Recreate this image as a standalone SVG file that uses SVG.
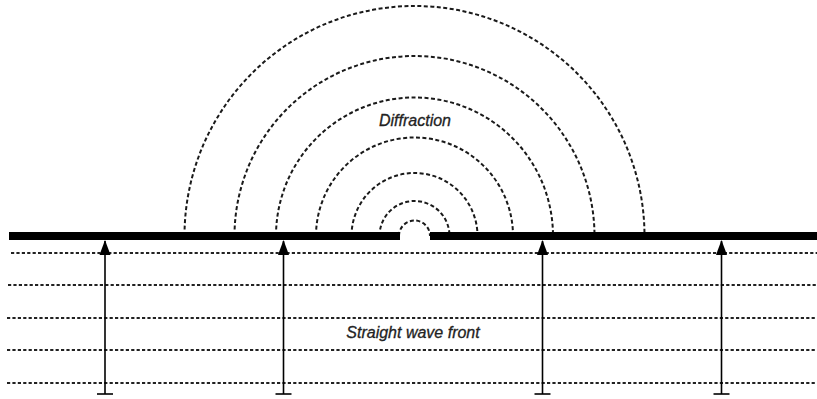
<svg xmlns="http://www.w3.org/2000/svg" width="817" height="399" viewBox="0 0 817 399">
<defs>
<style>
.arc{fill:none;stroke:#1a1a1a;stroke-width:2;stroke-dasharray:4 2.5}
.wave{fill:none;stroke:#222;stroke-width:2.2;stroke-dasharray:3.2 2.2}
.wall{fill:#000}
.shaft{stroke:#000;stroke-width:1.6;fill:none}
.lbl{font-family:"Liberation Sans",Arial,sans-serif;font-style:italic;font-size:16px;fill:#222;stroke:#222;stroke-width:0.3;text-anchor:middle}
</style>
<marker id="ah" viewBox="0 0 12 16" refX="6" refY="1" markerWidth="12" markerHeight="16" markerUnits="userSpaceOnUse" orient="0">
<path d="M6 0 L11.5 15 L0.5 15 Z" fill="#000"/>
</marker>
</defs>
<rect width="817" height="399" fill="#fff"/>
<g id="diffraction-arcs">
<path class="arc" d="M184.5 236 A230 230 0 0 1 644.5 236"/>
<path class="arc" d="M234.5 236 A180 180 0 0 1 594.5 236"/>
<path class="arc" d="M276 236 A138.5 138.5 0 0 1 553 236"/>
<path class="arc" d="M316 236 A98.5 98.5 0 0 1 513 236"/>
<path class="arc" d="M351.5 236 A63 63 0 0 1 477.5 236"/>
<path class="arc" d="M379.5 236 A35 35 0 0 1 449.5 236"/>
<path class="arc" d="M399 236 A15.5 15.5 0 0 1 430 236"/>
</g>
<g id="wave-lines">
<line class="wave" x1="11" y1="253" x2="817" y2="253"/>
<line class="wave" x1="8" y1="285" x2="817" y2="285"/>
<line class="wave" x1="7" y1="318" x2="817" y2="318"/>
<line class="wave" x1="7" y1="350" x2="817" y2="350"/>
<line class="wave" x1="7" y1="383" x2="817" y2="383"/>
</g>
<g id="wall">
<rect class="wall" x="9" y="232" width="391" height="8"/>
<rect class="wall" x="430" y="232" width="387" height="8"/>
</g>
<g id="connectors">
<g id="arrow1"><line class="shaft" x1="105" y1="394" x2="105" y2="241" marker-end="url(#ah)"/><line class="shaft" x1="97" y1="394" x2="113" y2="394"/></g>
<g id="arrow2"><line class="shaft" x1="283.5" y1="394" x2="283.5" y2="241" marker-end="url(#ah)"/><line class="shaft" x1="275.5" y1="394" x2="291.5" y2="394"/></g>
<g id="arrow3"><line class="shaft" x1="542.5" y1="394" x2="542.5" y2="241" marker-end="url(#ah)"/><line class="shaft" x1="534.5" y1="394" x2="550.5" y2="394"/></g>
<g id="arrow4"><line class="shaft" x1="721.5" y1="394" x2="721.5" y2="241" marker-end="url(#ah)"/><line class="shaft" x1="713.5" y1="394" x2="729.5" y2="394"/></g>
</g>
<g id="label-diffraction"><text class="lbl" x="415" y="126">Diffraction</text></g>
<g id="label-wave"><text class="lbl" x="413" y="338">Straight wave front</text></g>
</svg>
